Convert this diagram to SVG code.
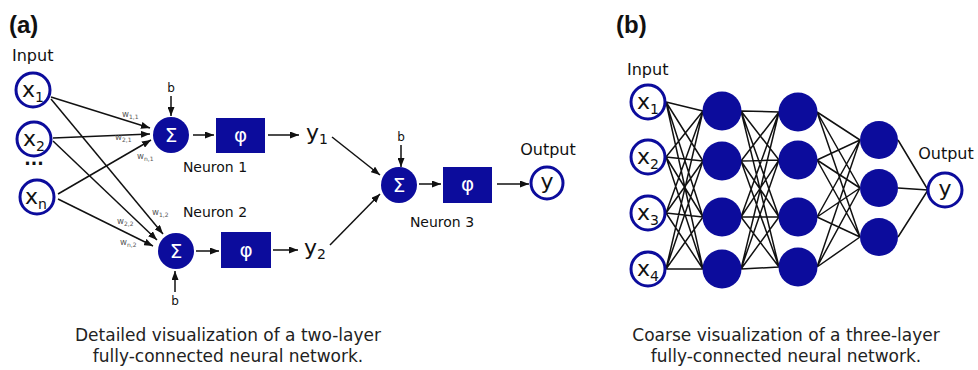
<svg xmlns="http://www.w3.org/2000/svg" width="978" height="370" viewBox="0 0 978 370">
<style>
.ring{fill:#fff;stroke:#0c0c9c;stroke-width:3}
.fill{fill:#0c0c9c}
.lbl{font-family:"DejaVu Sans",sans-serif;fill:#111}
.big{font-family:"DejaVu Sans",sans-serif;font-size:22px;fill:#111}
.sub{font-size:14px}
.wh{font-family:"DejaVu Sans",sans-serif;font-size:20px;fill:#fff}
.w{font-family:"DejaVu Sans",sans-serif;font-size:8.5px;fill:#555}
.ws{font-size:6px}
.cap{font-family:"DejaVu Sans",sans-serif;font-size:17px;fill:#222}
.ar{stroke:#111;stroke-width:1.5;fill:none;marker-end:url(#ah)}
.ln{stroke:#111;stroke-width:1.5;fill:none}
.title{font-family:"Liberation Sans",Arial,sans-serif;font-size:24px;font-weight:bold;fill:#111}
</style>
<defs>
<marker id="ah" markerUnits="userSpaceOnUse" markerWidth="9" markerHeight="7" refX="9" refY="3.5" orient="auto">
<path d="M0,0 L9,3.5 L0,7 z" fill="#111"/>
</marker>
</defs>
<rect width="978" height="370" fill="#fff"/>

<!-- Panel (a) -->
<text class="title" x="9" y="33">(a)</text>
<text class="lbl" x="12" y="61" font-size="16">Input</text>

<g id="connectors-a">
<line class="ar" x1="51" y1="97" x2="150" y2="128"/>
<line class="ar" x1="53" y1="138" x2="150" y2="134"/>
<line class="ar" x1="58" y1="194" x2="151" y2="140"/>
<line class="ar" x1="51" y1="99" x2="163" y2="234"/>
<line class="ar" x1="53" y1="141" x2="157" y2="240"/>
<line class="ar" x1="58" y1="199" x2="153" y2="246"/>
<line class="ar" x1="171" y1="96" x2="171" y2="116"/>
<line class="ar" x1="175" y1="292" x2="175" y2="271"/>
<line class="ar" x1="193" y1="135" x2="214" y2="135"/>
<line class="ar" x1="196" y1="251" x2="219" y2="251"/>
<line class="ar" x1="268" y1="135" x2="299" y2="135"/>
<line class="ar" x1="273" y1="250" x2="298" y2="250"/>
<line class="ar" x1="332" y1="137" x2="380" y2="175"/>
<line class="ar" x1="330" y1="245" x2="380" y2="194"/>
<line class="ar" x1="401" y1="145" x2="401" y2="167"/>
<line class="ar" x1="419" y1="184" x2="441" y2="184"/>
<line class="ar" x1="497" y1="184" x2="529" y2="184"/>
</g>

<g id="weights">
<text class="w" x="122" y="117">w<tspan class="ws" dy="2">1,1</tspan></text>
<text class="w" x="115" y="140">w<tspan class="ws" dy="2">2,1</tspan></text>
<text class="w" x="137" y="159">w<tspan class="ws" dy="2">n,1</tspan></text>
<text class="w" x="152" y="215">w<tspan class="ws" dy="2">1,2</tspan></text>
<text class="w" x="117" y="224">w<tspan class="ws" dy="2">2,2</tspan></text>
<text class="w" x="120" y="245">w<tspan class="ws" dy="2">n,2</tspan></text>
</g>

<g id="x1"><circle class="ring" cx="33" cy="90" r="17"/><text class="big" x="22" y="97">x<tspan class="sub" dy="5">1</tspan></text></g>
<g id="x2"><circle class="ring" cx="34" cy="139" r="17"/><text class="big" x="23" y="146">x<tspan class="sub" dy="5">2</tspan></text></g>
<text class="lbl" x="34" y="170" font-size="17" font-weight="bold" fill="#333" text-anchor="middle">···</text>
<g id="xn"><circle class="ring" cx="37" cy="197" r="17"/><text class="big" x="25" y="204">x<tspan class="sub" dy="5">n</tspan></text></g>

<g id="neuron1">
<text class="lbl" x="171" y="92" font-size="12" text-anchor="middle">b</text>
<circle class="fill" cx="171" cy="135" r="18"/>
<text class="wh" x="171" y="142" text-anchor="middle">Σ</text>
<rect class="fill" x="216" y="118" width="49" height="35"/>
<text class="wh" x="240.5" y="142" text-anchor="middle">φ</text>
<text class="lbl" x="215" y="172" font-size="14" fill="#333" text-anchor="middle">Neuron 1</text>
</g>
<g id="y1"><text class="big" x="306" y="140">y<tspan class="sub" dy="4">1</tspan></text></g>

<g id="neuron2">
<text class="lbl" x="215" y="217" font-size="14" fill="#333" text-anchor="middle">Neuron 2</text>
<circle class="fill" cx="176" cy="251" r="18"/>
<text class="wh" x="176" y="258" text-anchor="middle">Σ</text>
<rect class="fill" x="221" y="232" width="50" height="36"/>
<text class="wh" x="246" y="257" text-anchor="middle">φ</text>
<text class="lbl" x="175" y="305" font-size="12" text-anchor="middle">b</text>
</g>
<g id="y2"><text class="big" x="304" y="255">y<tspan class="sub" dy="4">2</tspan></text></g>

<g id="neuron3">
<text class="lbl" x="401" y="141" font-size="12" text-anchor="middle">b</text>
<circle class="fill" cx="399" cy="185" r="18"/>
<text class="wh" x="399" y="192" text-anchor="middle">Σ</text>
<rect class="fill" x="443" y="167" width="49" height="36"/>
<text class="wh" x="467.5" y="191" text-anchor="middle">φ</text>
<text class="lbl" x="442" y="227" font-size="14" fill="#333" text-anchor="middle">Neuron 3</text>
</g>

<g id="out-a">
<text class="lbl" x="548" y="155" font-size="16" text-anchor="middle">Output</text>
<circle class="ring" cx="547" cy="183" r="16"/>
<text class="big" x="547" y="189" text-anchor="middle">y</text>
</g>

<text class="cap" x="228" y="341" text-anchor="middle">Detailed visualization of a two-layer</text>
<text class="cap" x="228" y="362" text-anchor="middle">fully-connected neural network.</text>

<!-- Panel (b) -->
<text class="title" x="616" y="33">(b)</text>
<text class="lbl" x="627" y="75" font-size="16">Input</text>
<text class="lbl" x="946" y="159" font-size="16" text-anchor="middle">Output</text>

<g id="connectors-b" class="ln">
<path d="M666,102 L703,111 M666,102 L703,161 M666,102 L703,217 M666,102 L703,269
M666,157 L703,111 M666,157 L703,161 M666,157 L703,217 M666,157 L703,269
M666,213 L703,111 M666,213 L703,161 M666,213 L703,217 M666,213 L703,269
M666,269 L703,111 M666,269 L703,161 M666,269 L703,217 M666,269 L703,269"/>
<path d="M741,111 L779,112 M741,111 L779,160 M741,111 L779,217 M741,111 L779,267
M741,161 L779,112 M741,161 L779,160 M741,161 L779,217 M741,161 L779,267
M741,217 L779,112 M741,217 L779,160 M741,217 L779,217 M741,217 L779,267
M741,269 L779,112 M741,269 L779,160 M741,269 L779,217 M741,269 L779,267"/>
<path d="M817,112 L860,140 M817,112 L860,188 M817,112 L860,237
M817,160 L860,140 M817,160 L860,188 M817,160 L860,237
M817,217 L860,140 M817,217 L860,188 M817,217 L860,237
M817,267 L860,140 M817,267 L860,188 M817,267 L860,237"/>
<path d="M898,140 L928,190 M898,188 L928,190 M898,237 L928,190"/>
</g>

<g id="bx1"><circle class="ring" cx="648" cy="102" r="17"/><text class="big" x="637" y="109">x<tspan class="sub" dy="5">1</tspan></text></g>
<g id="bx2"><circle class="ring" cx="648" cy="157" r="17"/><text class="big" x="637" y="164">x<tspan class="sub" dy="5">2</tspan></text></g>
<g id="bx3"><circle class="ring" cx="648" cy="213" r="17"/><text class="big" x="637" y="220">x<tspan class="sub" dy="5">3</tspan></text></g>
<g id="bx4"><circle class="ring" cx="648" cy="269" r="17"/><text class="big" x="637" y="276">x<tspan class="sub" dy="5">4</tspan></text></g>

<g id="h1a"><circle class="fill" cx="722" cy="111" r="19.5"/></g>
<g id="h1b"><circle class="fill" cx="722" cy="161" r="19.5"/></g>
<g id="h1c"><circle class="fill" cx="722" cy="217" r="19.5"/></g>
<g id="h1d"><circle class="fill" cx="722" cy="269" r="19.5"/></g>
<g id="h2a"><circle class="fill" cx="798" cy="112" r="19.5"/></g>
<g id="h2b"><circle class="fill" cx="798" cy="160" r="19.5"/></g>
<g id="h2c"><circle class="fill" cx="798" cy="217" r="19.5"/></g>
<g id="h2d"><circle class="fill" cx="798" cy="267" r="19.5"/></g>
<g id="h3a"><circle class="fill" cx="879" cy="140" r="19"/></g>
<g id="h3b"><circle class="fill" cx="879" cy="188" r="19"/></g>
<g id="h3c"><circle class="fill" cx="879" cy="237" r="19"/></g>

<g id="out-b"><circle class="ring" cx="945" cy="190" r="17"/><text class="big" x="945" y="196" text-anchor="middle">y</text></g>

<text class="cap" x="786" y="341" text-anchor="middle">Coarse visualization of a three-layer</text>
<text class="cap" x="786" y="362" text-anchor="middle">fully-connected neural network.</text>
</svg>
